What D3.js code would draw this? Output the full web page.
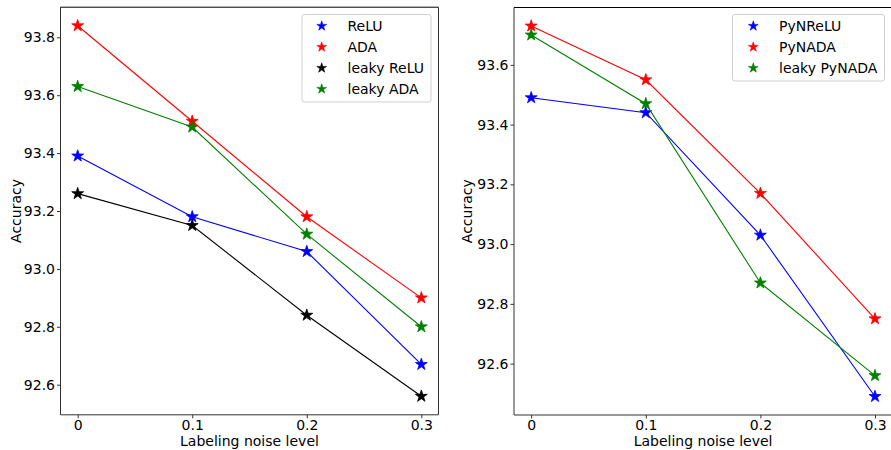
<!DOCTYPE html>
<html><head><meta charset="utf-8">
<script src="https://cdn.jsdelivr.net/npm/d3@7"></script>
<style>body{margin:0;background:#fff}svg{display:block}text{font-family:"DejaVu Sans",sans-serif;}</style>
</head><body><svg id="c" width="891" height="450"></svg>
<script>
const noiseLevels = [0, 0.1, 0.2, 0.3];
const xTickLabels = ["0", "0.1", "0.2", "0.3"];
const leftNames = ["ReLU", "ADA", "leaky ReLU", "leaky ADA"];
const leftColors = ["#0000ff", "#ff0000", "#000000", "#008000"];
const reluVals = [93.39, 93.18, 93.06, 92.67];
const adaVals = [93.84, 93.51, 93.18, 92.90];
const leakyReluVals = [93.26, 93.15, 92.84, 92.56];
const leakyAdaVals = [93.63, 93.49, 93.12, 92.80];
const leftYTicks = [92.6, 92.8, 93.0, 93.2, 93.4, 93.6, 93.8];
const rightNames = ["PyNReLU", "PyNADA", "leaky PyNADA"];
const rightColors = ["#0000ff", "#ff0000", "#008000"];
const pynReluVals = [93.49, 93.44, 93.03, 92.49];
const pynAdaVals = [93.73, 93.55, 93.17, 92.75];
const leakyPynAdaVals = [93.70, 93.47, 92.87, 92.56];
const rightYTicks = [92.6, 92.8, 93.0, 93.2, 93.4, 93.6];
const xLabel = "Labeling noise level";
const yLabel = "Accuracy";

const svg = d3.select("#c");
const fontSize = 14;

function panel(opts) {
  const {left, right, top, bottom, series, names, colors, yTicks, yLabelX, legend} = opts;
  const all = series.flat();
  const ymin = d3.min(all), ymax = d3.max(all);
  const ypad = (ymax - ymin) * 0.05;
  const x = d3.scaleLinear().domain([-0.015, 0.315]).range([left, right]);
  const y = d3.scaleLinear().domain([ymin - ypad, ymax + ypad]).range([bottom, top]);
  const g = svg.append("g");

  const line = d3.line().x((d, i) => x(noiseLevels[i])).y(d => y(d));
  const star = d3.symbol().type(d3.symbolStar).size(44);
  series.forEach((vals, si) => {
    g.append("path").attr("d", line(vals)).attr("fill", "none")
      .attr("stroke", colors[si]).attr("stroke-width", 1.1);
    g.selectAll(null).data(vals).enter().append("path")
      .attr("d", star)
      .attr("transform", (d, i) => `translate(${x(noiseLevels[i])},${y(d)})`)
      .attr("fill", colors[si]).attr("stroke", colors[si]).attr("stroke-width", 0.8);
  });

  // spines
  const spine = "#333";
  g.append("line").attr("x1", left).attr("x2", left).attr("y1", top).attr("y2", bottom).attr("stroke", spine).attr("stroke-width", 1);
  g.append("line").attr("x1", left).attr("x2", right).attr("y1", bottom).attr("y2", bottom).attr("stroke", spine).attr("stroke-width", 1);
  g.append("line").attr("x1", left).attr("x2", right).attr("y1", top).attr("y2", top).attr("stroke", "#000").attr("stroke-width", 1);
  g.append("line").attr("x1", right).attr("x2", right).attr("y1", top).attr("y2", bottom).attr("stroke", spine).attr("stroke-width", 1);

  // axes
  const xa = d3.axisBottom(x).tickValues(noiseLevels).tickFormat((d, i) => xTickLabels[i]).tickSize(3.5).tickPadding(2);
  const xg = g.append("g").attr("transform", `translate(0,${bottom})`).call(xa);
  xg.select(".domain").remove();
  xg.selectAll("text").attr("font-size", fontSize).attr("fill", "#000").attr("font-family", "DejaVu Sans");
  xg.selectAll("line").attr("stroke", "#333");
  const ya = d3.axisLeft(y).tickValues(yTicks).tickFormat(d3.format(".1f")).tickSize(3.5).tickPadding(2);
  const yg = g.append("g").attr("transform", `translate(${left},0)`).call(ya);
  yg.select(".domain").remove();
  yg.selectAll("text").attr("font-size", fontSize).attr("fill", "#000").attr("font-family", "DejaVu Sans");
  yg.selectAll("line").attr("stroke", "#333");

  svg.append("text").attr("x", (x(0) + x(0.3)) / 2).attr("y", 446)
    .attr("text-anchor", "middle").attr("font-size", fontSize).text(xLabel);
  svg.append("text").attr("transform", `translate(${yLabelX},${(top + bottom) / 2}) rotate(-90)`)
    .attr("text-anchor", "middle").attr("font-size", fontSize).text(yLabel);

  // legend
  const lg = svg.append("g");
  lg.append("rect").attr("x", legend.x).attr("y", legend.y).attr("width", legend.w).attr("height", legend.h)
    .attr("rx", 2.5).attr("fill", "rgba(255,255,255,0.8)").attr("stroke", "#d0d0d0").attr("stroke-width", 1);
  const lstar = d3.symbol().type(d3.symbolStar).size(30);
  names.forEach((n, i) => {
    const yy = legend.y + 11.5 + i * 21;
    lg.append("path").attr("d", lstar).attr("transform", `translate(${legend.mx},${yy})`)
      .attr("fill", colors[i]).attr("stroke", colors[i]).attr("stroke-width", 0.6);
    lg.append("text").attr("x", legend.tx).attr("y", yy).attr("dy", "0.36em")
      .attr("font-size", fontSize).text(n);
  });
}

panel({left: 60.5, right: 438.5, top: 7.2, bottom: 414.8,
  series: [reluVals, adaVals, leakyReluVals, leakyAdaVals], names: leftNames, colors: leftColors,
  yTicks: leftYTicks, yLabelX: 21,
  legend: {x: 302, y: 14.5, w: 129, h: 87.5, mx: 321.7, tx: 347.5}});
panel({left: 514, right: 892.2, top: 7.5, bottom: 415,
  series: [pynReluVals, pynAdaVals, leakyPynAdaVals], names: rightNames, colors: rightColors,
  yTicks: rightYTicks, yLabelX: 472,
  legend: {x: 732.5, y: 14.5, w: 152, h: 66.5, mx: 753.3, tx: 779}});
</script></body></html>
